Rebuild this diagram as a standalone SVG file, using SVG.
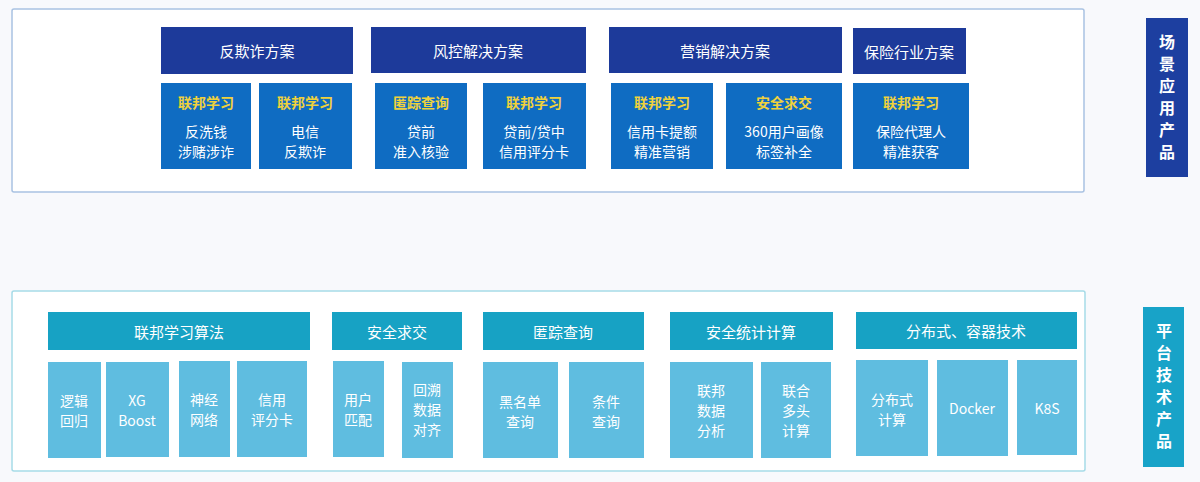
<svg xmlns="http://www.w3.org/2000/svg" width="1200" height="482" viewBox="0 0 1200 482">
<style>
text{font-family:"Noto Sans CJK SC","Noto Sans",sans-serif;text-anchor:middle;dominant-baseline:central}
.frameT{fill:#ffffff;stroke:#a9c2e2;stroke-width:1.5}
.frameB{fill:#ffffff;stroke:#a6dbe7;stroke-width:1.5}
.hd{fill:#1d3a9a}
.sb{fill:#0f6cc2}
.th{fill:#17a2c4}
.ls{fill:#5fbde0}
.lblT{fill:#1d3fa0}
.lblB{fill:#18a3c8}
.w{fill:#ffffff;font-size:15px}
.y{fill:#f0d23c;font-size:14px;font-weight:bold}
.s{fill:#ffffff;font-size:14px}
.v{fill:#ffffff;font-size:16px;font-weight:bold}
</style>
<rect width="1200" height="482" fill="#f8f9fc"/>
<g id="frame-top"><rect class="frameT" x="12" y="9" width="1072" height="183" rx="2"/></g>
<g id="frame-bottom"><rect class="frameB" x="12" y="291" width="1073" height="180" rx="2"/></g>
<g id="connectors"></g>

<g id="h-fanqizha"><rect class="hd" x="161" y="27" width="192" height="47"/><text class="w" x="257" y="50">反欺诈方案</text></g>
<g id="h-fengkong"><rect class="hd" x="371" y="27" width="215" height="46"/><text class="w" x="478" y="50">风控解决方案</text></g>
<g id="h-yingxiao"><rect class="hd" x="609" y="27" width="233" height="46"/><text class="w" x="725" y="50">营销解决方案</text></g>
<g id="h-baoxian"><rect class="hd" x="853" y="28" width="113" height="46"/><text class="w" x="909" y="51">保险行业方案</text></g>

<g id="s1"><rect class="sb" x="161" y="83" width="90" height="86"/><text class="y" x="206" y="102">联邦学习</text><text class="s" x="206" y="131">反洗钱</text><text class="s" x="206" y="151">涉赌涉诈</text></g>
<g id="s2"><rect class="sb" x="259" y="83" width="93" height="86"/><text class="y" x="305" y="102">联邦学习</text><text class="s" x="305" y="131">电信</text><text class="s" x="305" y="151">反欺诈</text></g>
<g id="s3"><rect class="sb" x="375" y="83" width="92" height="86"/><text class="y" x="421" y="102">匿踪查询</text><text class="s" x="421" y="131">贷前</text><text class="s" x="421" y="151">准入核验</text></g>
<g id="s4"><rect class="sb" x="483" y="83" width="103" height="86"/><text class="y" x="534" y="102">联邦学习</text><text class="s" x="534" y="131">贷前/贷中</text><text class="s" x="534" y="151">信用评分卡</text></g>
<g id="s5"><rect class="sb" x="611" y="83" width="102" height="86"/><text class="y" x="662" y="102">联邦学习</text><text class="s" x="662" y="131">信用卡提额</text><text class="s" x="662" y="151">精准营销</text></g>
<g id="s6"><rect class="sb" x="726" y="83" width="116" height="86"/><text class="y" x="784" y="102">安全求交</text><text class="s" x="784" y="131">360用户画像</text><text class="s" x="784" y="151">标签补全</text></g>
<g id="s7"><rect class="sb" x="853" y="83" width="116" height="86"/><text class="y" x="911" y="102">联邦学习</text><text class="s" x="911" y="131">保险代理人</text><text class="s" x="911" y="151">精准获客</text></g>

<g id="label-top"><rect class="lblT" x="1146" y="18" width="42" height="159"/>
<text class="v" x="1167" y="41">场</text><text class="v" x="1167" y="63">景</text><text class="v" x="1167" y="85">应</text><text class="v" x="1167" y="107">用</text><text class="v" x="1167" y="129">产</text><text class="v" x="1167" y="151">品</text></g>

<g id="b-fl"><rect class="th" x="48" y="312" width="262" height="38"/><text class="w" x="179" y="331">联邦学习算法</text></g>
<g id="b-aq"><rect class="th" x="332" y="312" width="130" height="38"/><text class="w" x="397" y="331">安全求交</text></g>
<g id="b-nz"><rect class="th" x="483" y="312" width="161" height="38"/><text class="w" x="563" y="331">匿踪查询</text></g>
<g id="b-tj"><rect class="th" x="670" y="312" width="163" height="38"/><text class="w" x="751" y="331">安全统计计算</text></g>
<g id="b-fb"><rect class="th" x="856" y="312" width="221" height="37"/><text class="w" x="966" y="330">分布式、容器技术</text></g>

<g id="l1"><rect class="ls" x="48" y="362" width="53" height="96"/><text class="s" x="74" y="400">逻辑</text><text class="s" x="74" y="420">回归</text></g>
<g id="l2"><rect class="ls" x="106" y="362" width="63" height="95"/><text class="s" x="137" y="400">XG</text><text class="s" x="137" y="420">Boost</text></g>
<g id="l3"><rect class="ls" x="179" y="361" width="51" height="96"/><text class="s" x="204" y="399">神经</text><text class="s" x="204" y="419">网络</text></g>
<g id="l4"><rect class="ls" x="237" y="361" width="70" height="96"/><text class="s" x="272" y="399">信用</text><text class="s" x="272" y="419">评分卡</text></g>
<g id="l5"><rect class="ls" x="333" y="361" width="51" height="96"/><text class="s" x="358" y="399">用户</text><text class="s" x="358" y="419">匹配</text></g>
<g id="l6"><rect class="ls" x="402" y="362" width="51" height="96"/><text class="s" x="427" y="389">回溯</text><text class="s" x="427" y="409">数据</text><text class="s" x="427" y="429">对齐</text></g>
<g id="l7"><rect class="ls" x="483" y="362" width="75" height="96"/><text class="s" x="520" y="401">黑名单</text><text class="s" x="520" y="421">查询</text></g>
<g id="l8"><rect class="ls" x="569" y="362" width="75" height="96"/><text class="s" x="606" y="401">条件</text><text class="s" x="606" y="421">查询</text></g>
<g id="l9"><rect class="ls" x="670" y="362" width="83" height="96"/><text class="s" x="711" y="390">联邦</text><text class="s" x="711" y="410">数据</text><text class="s" x="711" y="430">分析</text></g>
<g id="l10"><rect class="ls" x="761" y="362" width="70" height="96"/><text class="s" x="796" y="390">联合</text><text class="s" x="796" y="410">多头</text><text class="s" x="796" y="430">计算</text></g>
<g id="l11"><rect class="ls" x="856" y="360" width="72" height="96"/><text class="s" x="892" y="399">分布式</text><text class="s" x="892" y="419">计算</text></g>
<g id="l12"><rect class="ls" x="937" y="360" width="71" height="96"/><text class="s" x="972" y="408">Docker</text></g>
<g id="l13"><rect class="ls" x="1017" y="360" width="60" height="95"/><text class="s" x="1047" y="408">K8S</text></g>

<g id="label-bottom"><rect class="lblB" x="1143" y="307" width="41" height="160"/>
<text class="v" x="1164" y="330">平</text><text class="v" x="1164" y="352">台</text><text class="v" x="1164" y="374">技</text><text class="v" x="1164" y="396">术</text><text class="v" x="1164" y="418">产</text><text class="v" x="1164" y="440">品</text></g>
</svg>
